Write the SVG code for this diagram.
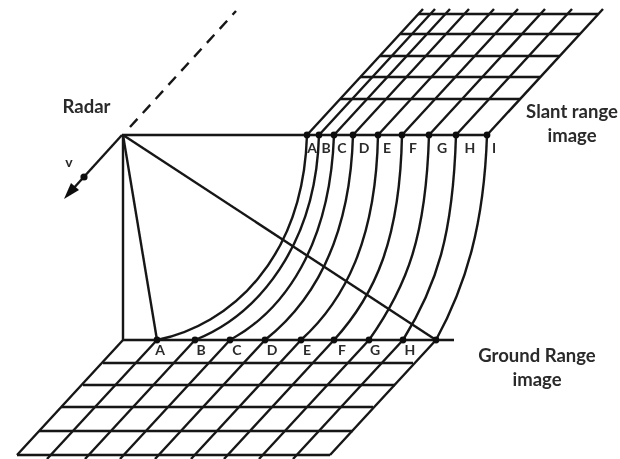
<svg xmlns="http://www.w3.org/2000/svg" width="620" height="459" viewBox="0 0 620 459">
<style>
.l{fill:none;stroke:#161616;stroke-width:2.4;stroke-linecap:butt}
.t{font-family:"Lato","Liberation Sans",sans-serif;font-weight:700;fill:#2a2a2a;text-anchor:middle}
.m{font-size:14px}
.b{font-size:18.5px}
.d{fill:#111}
</style>
<defs><filter id="s" x="-2%" y="-2%" width="104%" height="104%"><feGaussianBlur stdDeviation="0.45"/></filter></defs>
<rect width="620" height="459" fill="#fff"/>
<g filter="url(#s)">
<g id="connectors">
<g id="slant-grid" class="l">
<path d="M307 135L423 9M319 135L435 9M334 135L450 9M353 135L469 9M378 135L494 9M402 135L518 9M429 135L545 9M456 135L572 9M487 135L603 9"/>
<path d="M418 14H598M400 34H580M380 56H560M360 77H540M340 99H520"/>
</g>
<g id="ground-grid" class="l">
<path d="M123 340L17 455M157 340L47 459M195 340L85 459M230 340L120 459M265 340L155 459M301 340L191 459M334 340L224 459M369 340L259 459M403 340L293 459M436 340L330 455"/>
<path d="M103 363H413M83 385H395M61 407H373M39 431H353M17 455H330"/>
<path d="M123 340H454"/>
</g>
<g id="curves" class="l">
<path d="M307 135C303 260 230 325 157 340"/>
<path d="M319 135C316 245 258 315 195 340"/>
<path d="M334 135C330 245 285 310 230 340"/>
<path d="M353 135C350 240 313 302 265 340"/>
<path d="M378 135C376 240 345 300 301 340"/>
<path d="M402 135C400 240 375 295 334 340"/>
<path d="M429 135C426 235 408 285 369 340"/>
<path d="M456 135C453 235 437 285 403 340"/>
<path d="M487 135C484 225 466 285 436 340"/>
</g>
<g id="radar-lines" class="l">
<path d="M122 135H487"/>
<path d="M123 135V340"/>
<path d="M123 135L157 340"/>
<path d="M123 135L436 340"/>
<path d="M122 135L72 190"/>
<path d="M130 127L236 11" stroke-dasharray="11 8"/>
</g>
<path id="velocity-arrow" class="d" d="M64 199L71 183L79 190Z"/>
</g>
<g id="radar"><text class="t b" x="86.5" y="113">Radar</text></g>
<g id="velocity"><circle class="d" cx="84" cy="177" r="3.6"/><text class="t m" x="69" y="167">v</text></g>
<g id="slant-label"><text class="t b" x="572" y="118">Slant range</text><text class="t b" x="572" y="142">image</text></g>
<g id="ground-label"><text class="t b" x="537" y="362">Ground Range</text><text class="t b" x="537" y="386">image</text></g>
<g id="s-a"><circle class="d" cx="307" cy="135" r="3.4"/><text class="t m" x="312" y="153">A</text></g>
<g id="s-b"><circle class="d" cx="319" cy="135" r="3.4"/><text class="t m" x="326" y="153">B</text></g>
<g id="s-c"><circle class="d" cx="334" cy="135" r="3.4"/><text class="t m" x="342" y="153">C</text></g>
<g id="s-d"><circle class="d" cx="353" cy="135" r="3.4"/><text class="t m" x="364" y="153">D</text></g>
<g id="s-e"><circle class="d" cx="378" cy="135" r="3.4"/><text class="t m" x="387" y="153">E</text></g>
<g id="s-f"><circle class="d" cx="402" cy="135" r="3.4"/><text class="t m" x="413" y="153">F</text></g>
<g id="s-g"><circle class="d" cx="429" cy="135" r="3.4"/><text class="t m" x="442" y="153">G</text></g>
<g id="s-h"><circle class="d" cx="456" cy="135" r="3.4"/><text class="t m" x="470" y="153">H</text></g>
<g id="s-i"><circle class="d" cx="487" cy="135" r="3.4"/><text class="t m" x="494" y="153">I</text></g>
<g id="g-a"><circle class="d" cx="157" cy="340" r="3.4"/><text class="t m" x="160" y="355">A</text></g>
<g id="g-b"><circle class="d" cx="195" cy="340" r="3.4"/><text class="t m" x="201" y="355">B</text></g>
<g id="g-c"><circle class="d" cx="230" cy="340" r="3.4"/><text class="t m" x="237" y="355">C</text></g>
<g id="g-d"><circle class="d" cx="265" cy="340" r="3.4"/><text class="t m" x="272" y="355">D</text></g>
<g id="g-e"><circle class="d" cx="301" cy="340" r="3.4"/><text class="t m" x="307" y="355">E</text></g>
<g id="g-f"><circle class="d" cx="334" cy="340" r="3.4"/><text class="t m" x="342" y="355">F</text></g>
<g id="g-g"><circle class="d" cx="369" cy="340" r="3.4"/><text class="t m" x="375" y="355">G</text></g>
<g id="g-h"><circle class="d" cx="403" cy="340" r="3.4"/><text class="t m" x="410" y="355">H</text></g>
<g id="g-i"><circle class="d" cx="436" cy="340" r="3.4"/></g>
</g>
</svg>
